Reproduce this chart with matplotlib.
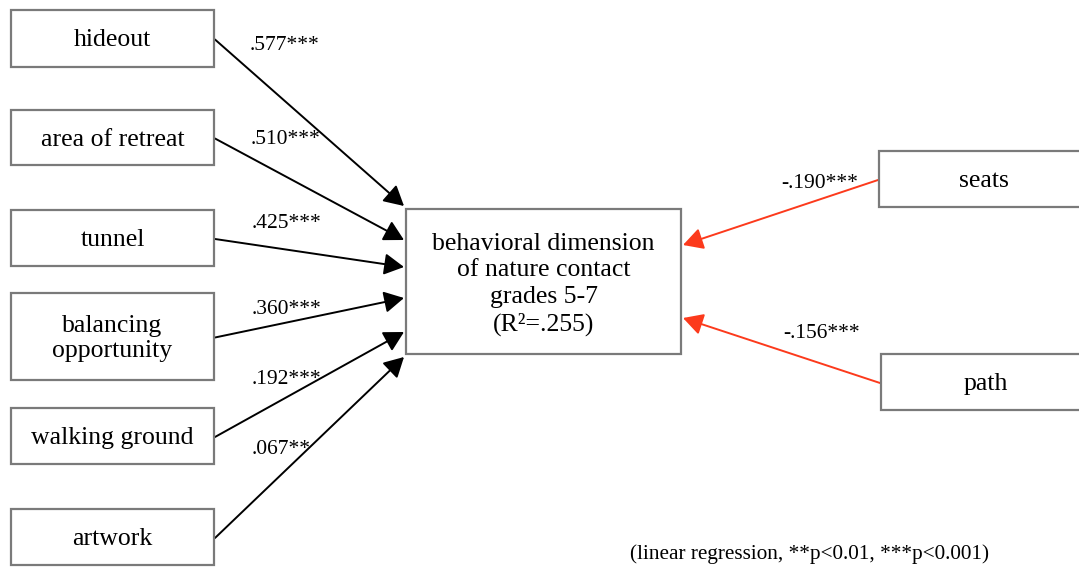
import matplotlib
matplotlib.use('Agg')
import matplotlib.pyplot as plt
from matplotlib.patches import Rectangle, FancyArrowPatch

# predictors and standardized coefficients
leftNames = ['hideout', 'area of retreat', 'tunnel', 'balancing\nopportunity',
             'walking ground', 'artwork']
leftCoefs = ['.577***', '.510***', '.425***', '.360***', '.192***', '.067**']
rightNames = ['seats', 'path']
rightCoefs = ['-.190***', '-.156***']
targetText = 'behavioral dimension\nof nature contact\ngrades 5-7\n(R\u00b2=.255)'
noteText = '(linear regression, **p<0.01, ***p<0.001)'

# layout in pixel coordinates
leftBoxes = [(11, 10, 203, 57), (11, 110, 203, 55), (11, 210, 203, 56),
             (11, 293, 203, 87), (11, 408, 203, 56), (11, 509, 203, 56)]
leftTips = [(404, 206), (404, 240), (404, 267), (404, 298), (404, 332), (404, 357)]
leftLabelPos = [(250, 46), (251, 139), (252, 223), (252, 309), (252, 379), (252, 449)]
rightBoxes = [(879, 151, 210, 56), (881, 354, 210, 56)]
rightTips = [(683, 245), (683, 318)]
rightLabelPos = [(781, 184), (783, 334)]
targetBox = (406, 209, 275, 145)

FONT = 'Liberation Serif'
EDGE = '#7a7a7a'
RED = '#fc3a1c'

fig = plt.figure(figsize=(10.79, 5.70), dpi=100)
ax = fig.add_axes([0, 0, 1, 1])
ax.set_xlim(0, 1079)
ax.set_ylim(570, 0)
ax.axis('off')


def drawBox(box, text, size=18.5):
    x, y, w, h = box
    ax.add_patch(Rectangle((x, y), w, h, facecolor='white', edgecolor=EDGE, lw=1.6, zorder=2))
    ax.text(x + w / 2, y + h / 2 + 2, text, ha='center', va='center', family=FONT,
            fontsize=size, linespacing=1.2, zorder=3)


def drawArrow(start, end, color):
    arr = FancyArrowPatch(start, end, arrowstyle='-|>,head_length=0.55,head_width=0.3',
                          mutation_scale=22, color=color, lw=1.4,
                          shrinkA=0, shrinkB=0, zorder=1)
    ax.add_patch(arr)


for box, name, tip, coef, pos in zip(leftBoxes, leftNames, leftTips, leftCoefs, leftLabelPos):
    drawBox(box, name)
    x, y, w, h = box
    drawArrow((x + w + 1, y + h / 2 + 1), tip, 'black')
    ax.text(pos[0], pos[1], coef, ha='left', va='center', family=FONT, fontsize=15.5, zorder=4)

for box, name, tip, coef, pos in zip(rightBoxes, rightNames, rightTips, rightCoefs, rightLabelPos):
    drawBox(box, name)
    x, y, w, h = box
    drawArrow((x - 1, y + h / 2 + 1), tip, RED)
    ax.text(pos[0], pos[1], coef, ha='left', va='center', family=FONT, fontsize=15.5, zorder=4)

x, y, w, h = targetBox
ax.add_patch(Rectangle((x, y), w, h, facecolor='white', edgecolor=EDGE, lw=1.6, zorder=2))
ax.text(x + w / 2, y + h / 2 + 3, targetText, ha='center', va='center', family=FONT,
        fontsize=18.5, linespacing=1.28, zorder=3)

ax.text(630, 554, noteText, ha='left', va='center', family=FONT, fontsize=15.3)

fig.savefig('out.png', dpi=100)
